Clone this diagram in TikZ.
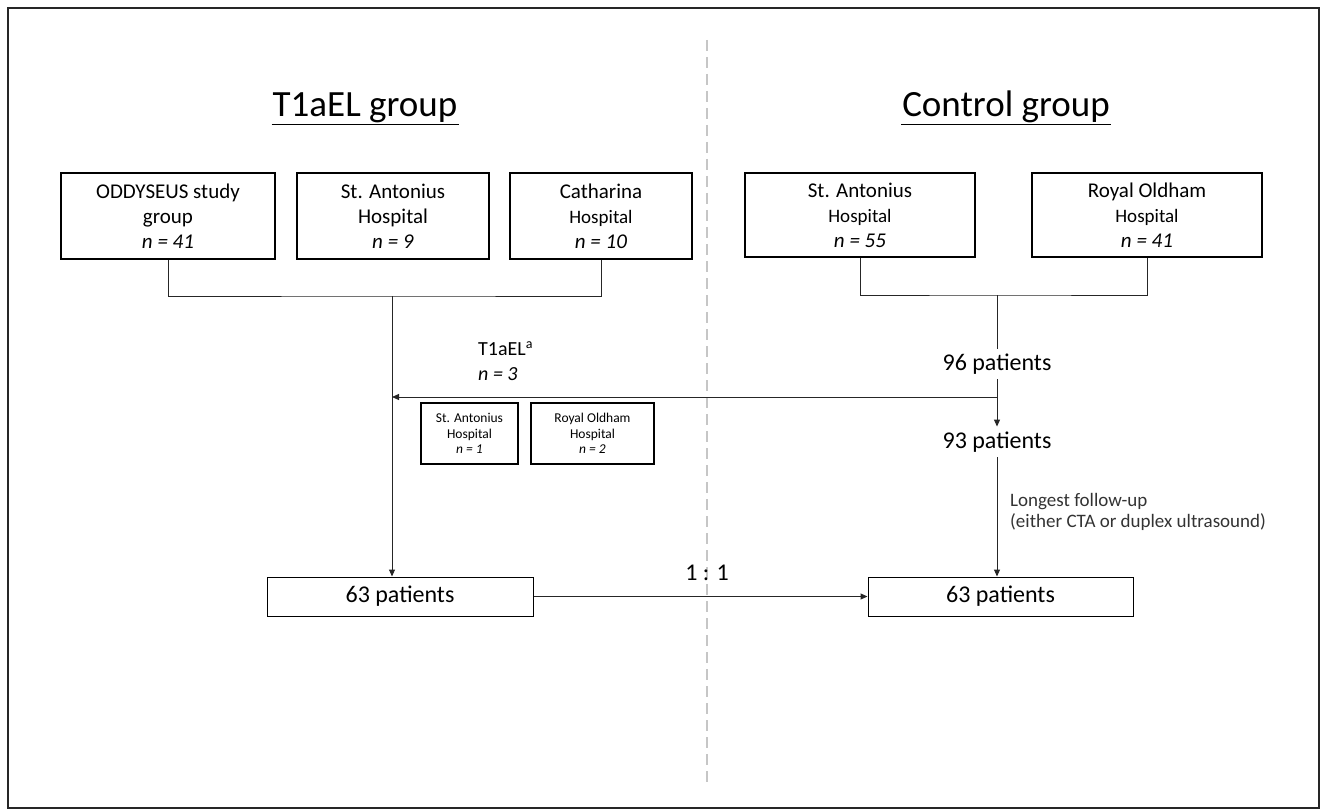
\documentclass[tikz,border=0pt]{standalone}
\usepackage{fontspec}
\setmainfont{Carlito}
\usetikzlibrary{arrows.meta}

\begin{document}
\begin{tikzpicture}[x=1pt,y=-1pt,
  site/.style={draw, line width=1.8pt, align=center, inner sep=0pt, font=\fontsize{21}{25}\selectfont},
  minisite/.style={draw, line width=1.8pt, align=center, inner sep=0pt, minimum height=61pt, font=\fontsize{13.5}{15.5}\selectfont},
  total/.style={draw, line width=1pt, inner sep=0pt, minimum height=39pt, font=\fontsize{24}{28}\selectfont},
  count/.style={inner sep=5pt, font=\fontsize{24}{28}\selectfont},
  grouptitle/.style={anchor=base, inner sep=1pt, font=\fontsize{37}{44}\selectfont},
  link/.style={line width=1pt, draw=black!85},
  flow/.style={link, -{Triangle[length=7pt,width=6pt]}}
]
\useasboundingbox (0,0) rectangle (1321,810);
\draw[line width=2pt, black!85] (8,8) rectangle (1319,808);
\draw[gray!45, line width=1.5pt, dash pattern=on 11pt off 6pt] (707,40) -- (707,782);

% titles
\node[grouptitle] (tgrp) at (365,117) {T1aEL group};
\node[grouptitle] (cgrp) at (1006,117) {Control group};
\draw[line width=1.8pt] (tgrp.south west) -- (tgrp.south east);
\draw[line width=1.8pt] (cgrp.south west) -- (cgrp.south east);

% source boxes
\node[site, minimum width=214pt, minimum height=86pt] (oddy) at (168,216) {ODDYSEUS study\\group\\\textit{n = 41}};
\node[site, minimum width=192pt, minimum height=86pt] (antL) at (393,216) {St. Antonius\\Hospital\\\textit{n = 9}};
\node[site, minimum width=182pt, minimum height=86pt] (cath) at (601,216) {Catharina\\{\fontsize{19}{25}\selectfont Hospital}\\\textit{n = 10}};
\node[site, minimum width=230pt, minimum height=84pt] (antR) at (860,215) {St. Antonius\\{\fontsize{19}{25}\selectfont Hospital}\\\textit{n = 55}};
\node[site, minimum width=230pt, minimum height=84pt] (oldham) at (1147,215) {Royal Oldham\\{\fontsize{19}{25}\selectfont Hospital}\\\textit{n = 41}};

\coordinate (jL) at (392,296);
\coordinate (jR) at (997,295);

% counts
\node[count] (p96) at (997,364) {96 patients};
\node[count] (p93) at (997,442) {93 patients};
\node[total, minimum width=266pt] (p63L) at (400,596.5) {63 patients};
\node[total, minimum width=265pt] (p63R) at (1000.5,596.5) {63 patients};
\coordinate (split) at (997,397);

% moved patients
\node[anchor=west, align=left, inner sep=0pt, font=\fontsize{20}{25}\selectfont] (moved) at (478,361) {T1aEL\textsuperscript{a}\\\textit{n = 3}};
\node[minisite, minimum width=97pt] (miniant) at (469.5,433.5) {St. Antonius\\Hospital\\\textit{n = 1}};
\node[minisite, minimum width=123pt] (minioldham) at (592.5,433.5) {Royal Oldham\\Hospital\\\textit{n = 2}};

\node[anchor=west, align=left, inner sep=0pt, text=black!80, font=\fontsize{19}{21}\selectfont] (followup) at (1010,512) {Longest follow-up\\(either CTA or duplex ultrasound)};
\node[count] (ratio) at (707,573) {1 : 1};

% connectors
\draw[link] (oddy.south) |- (jL) -| (cath.south);
\draw[flow] (jL) -- (jL |- p63L.north);
\draw[link] (antR.south) |- (jR) -| (oldham.south);
\draw[link] (jR) -- (p96.north);
\draw[link] (p96.south) -- (split);
\draw[flow] (split) -- (p93.north);
\draw[flow] (split) -- (split -| jL);
\draw[flow] (p93.south) -- (p93.south |- p63R.north);
\draw[flow] (p63L) -- (p63R);
\end{tikzpicture}
\end{document}
